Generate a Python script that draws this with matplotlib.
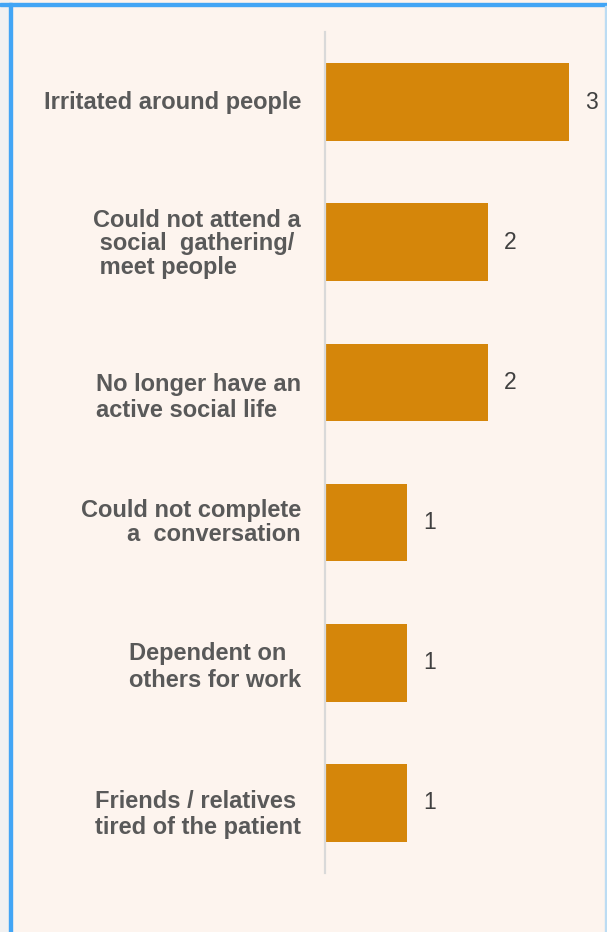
import matplotlib.pyplot as plt
from matplotlib.patches import Rectangle

# data
labels = [
    "Irritated around people",
    "Could not attend a\n social  gathering/\n meet people",
    "No longer have an\nactive social life",
    "Could not complete\na  conversation",
    "Dependent on\nothers for work",
    "Friends / relatives\ntired of the patient",
]
counts = [3, 2, 2, 1, 1, 1]
# per-label text alignment, line spacing and small vertical nudge (in bar slots)
label_align = ["left", "left", "left", "right", "left", "left"]
label_spacing = [1.1, 1.02, 1.15, 1.05, 1.18, 1.18]
label_nudge = [0.0, 0.01, 0.11, 0.0, 0.03, 0.08]

bg = "#fdf4ee"
bar_color = "#d5860a"

plt.rcParams['font.family'] = ['Liberation Sans', 'DejaVu Sans']

W, H = 607, 932
fig = plt.figure(figsize=(W / 100, H / 100), dpi=100)
fig.patch.set_facecolor(bg)

# frame decorations like the source page
fig.add_artist(Rectangle((0, 0), 9 / W, 1, transform=fig.transFigure, color="#f1f1f1", zorder=0))
fig.add_artist(Rectangle((9 / W, 0), 3 / W, 1 - 3 / H, transform=fig.transFigure, color="#42a5f5", zorder=1))
fig.add_artist(Rectangle((0, 1 - 6 / H), 1, 3 / H, transform=fig.transFigure, color="#42a5f5", zorder=1))
fig.add_artist(Rectangle((605 / W, 0), 2 / W, 1 - 6 / H, transform=fig.transFigure, color="#bcdcf3", zorder=1))

ax = fig.add_axes([325 / W, 1 - 873 / H, 280 / W, (873 - 32) / H])
ax.set_facecolor(bg)

y = list(range(len(labels)))
ax.barh(y, counts, height=0.555, color=bar_color, left=0.0)
ax.set_ylim(len(labels) - 0.5, -0.5)
ax.set_xlim(-0.012, 280 / 81.33)

for s in ["top", "right", "bottom"]:
    ax.spines[s].set_visible(False)
ax.spines["left"].set_color("#d9d9d9")
ax.spines["left"].set_linewidth(1.6)
ax.set_xticks([])
ax.set_yticks([])

for yi, c in zip(y, counts):
    ax.text(c + 0.2, yi, str(c), va="center", ha="left", fontsize=16.5, color="#404040")

trans = ax.get_yaxis_transform()
for yi, lab, al, ls, nd in zip(y, labels, label_align, label_spacing, label_nudge):
    ax.text(-24 / 280, yi + nd, lab, transform=trans, ha="right", va="center",
            multialignment=al, fontsize=17, fontweight="bold", color="#595959",
            linespacing=ls)

fig.savefig("out.png", dpi=100, facecolor=bg)
